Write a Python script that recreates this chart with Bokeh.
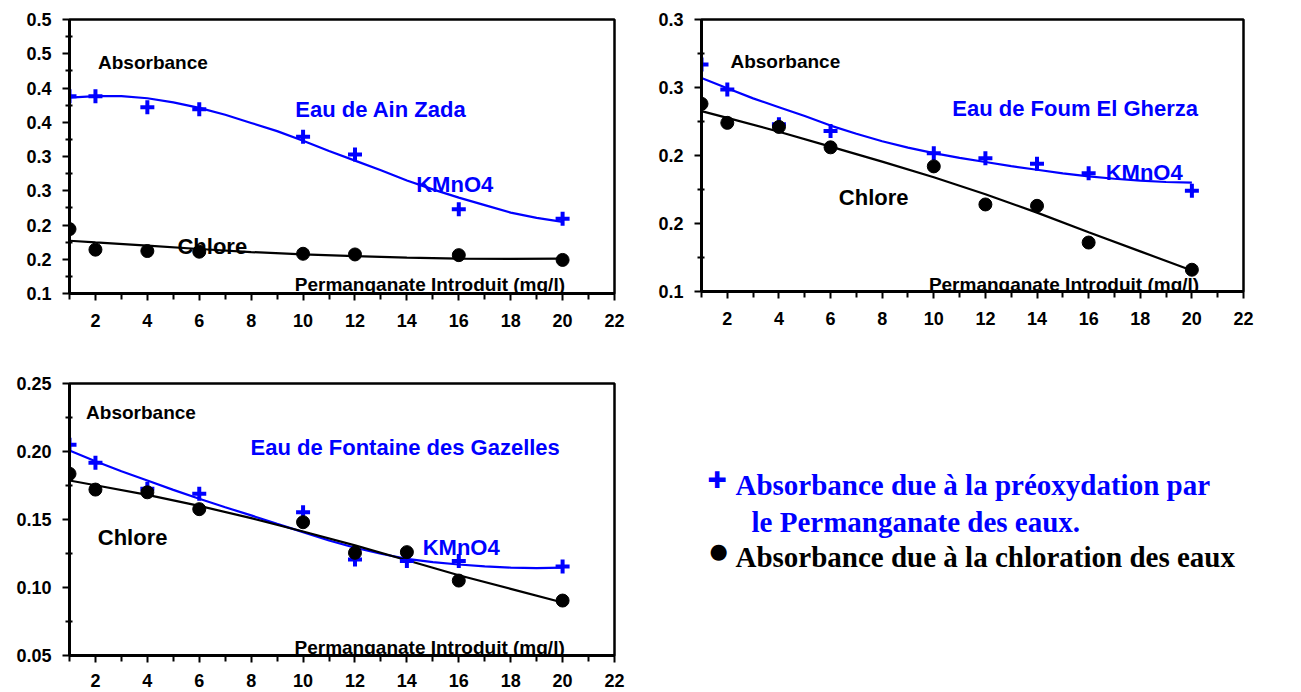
from bokeh.plotting import figure
from bokeh.models import Range1d, FixedTicker, Label
from bokeh.layouts import row, column
from bokeh.embed import file_html
from bokeh.resources import INLINE

BLUE = "#0000FF"
BLACK = "#000000"

# ---------------- data ----------------
x_major = [2, 4, 6, 8, 10, 12, 14, 16, 18, 20, 22]
x_minor = [1, 3, 5, 7, 9, 11, 13, 15, 17, 19, 21]

# Panel 1 : Eau de Ain Zada
az_x = [1, 2, 4, 6, 10, 12, 16, 20]
az_kmno4 = [0.388, 0.388, 0.372, 0.369, 0.329, 0.303, 0.223, 0.209]
az_chlore = [0.194, 0.164, 0.162, 0.161, 0.158, 0.157, 0.156, 0.149]
az_fit_k_x = [1, 2, 3, 4, 5, 6, 7, 8, 9, 10, 11, 12, 13, 14, 15, 16, 17, 18, 19, 20]
az_fit_k_y = [0.386, 0.388, 0.388, 0.385, 0.379, 0.371, 0.361, 0.349, 0.337, 0.323,
              0.308, 0.294, 0.280, 0.265, 0.252, 0.240, 0.229, 0.218, 0.2105, 0.2045]
az_fit_c_x = [1, 2, 4, 6, 8, 10, 12, 14, 16, 18, 20]
az_fit_c_y = [0.177, 0.1745, 0.170, 0.165, 0.1605, 0.157, 0.1545, 0.1525, 0.151, 0.1505, 0.151]
az_y_ticks = [0.10, 0.15, 0.20, 0.25, 0.30, 0.35, 0.40, 0.45, 0.50]
az_y_labels = ["0.1", "0.2", "0.2", "0.3", "0.3", "0.4", "0.4", "0.5", "0.5"]
az_y_minor = [0.125, 0.175, 0.225, 0.275, 0.325, 0.375, 0.425, 0.475]

# Panel 2 : Eau de Foum El Gherza
fg_x = [1, 2, 4, 6, 10, 12, 14, 16, 20]
fg_kmno4 = [0.267, 0.2485, 0.223, 0.218, 0.2017, 0.198, 0.194, 0.187, 0.174]
fg_chlore = [0.238, 0.224, 0.221, 0.206, 0.192, 0.164, 0.163, 0.136, 0.116]
fg_fit_k_x = [1, 2, 3, 4, 5, 6, 7, 8, 9, 10, 11, 12, 13, 14, 15, 16, 17, 18, 19, 20]
fg_fit_k_y = [0.257, 0.2495, 0.242, 0.2355, 0.229, 0.222, 0.216, 0.2105, 0.2058, 0.2018,
              0.1983, 0.1952, 0.1922, 0.1895, 0.1869, 0.1847, 0.1829, 0.1815, 0.1805, 0.180]
fg_fit_c_x = [1, 2, 4, 6, 8, 10, 12, 14, 16, 18, 20]
fg_fit_c_y = [0.2326, 0.2277, 0.2175, 0.2065, 0.1955, 0.184, 0.1715, 0.158, 0.1435, 0.1295, 0.1154]
fg_y_ticks = [0.10, 0.15, 0.20, 0.25, 0.30]
fg_y_labels = ["0.1", "0.2", "0.2", "0.3", "0.3"]
fg_y_minor = [0.125, 0.175, 0.225, 0.275]

# Panel 3 : Eau de Fontaine des Gazelles
gz_x = [1, 2, 4, 6, 10, 12, 14, 16, 20]
gz_kmno4 = [0.205, 0.1917, 0.1726, 0.169, 0.1554, 0.1206, 0.1194, 0.1194, 0.1154]
gz_chlore = [0.1836, 0.172, 0.170, 0.1576, 0.148, 0.1255, 0.126, 0.1051, 0.0904]
gz_fit_k_x = [1, 2, 3, 4, 5, 6, 7, 8, 9, 10, 11, 12, 13, 14, 15, 16, 17, 18, 19, 20]
gz_fit_k_y = [0.2007, 0.1929, 0.1855, 0.1787, 0.1718, 0.1652, 0.159, 0.153, 0.1468, 0.1407,
              0.1346, 0.1292, 0.1248, 0.1211, 0.1186, 0.1169, 0.1156, 0.1146, 0.1143, 0.1146]
gz_fit_c_x = [1, 2, 4, 6, 8, 10, 12, 14, 16, 18, 20]
gz_fit_c_y = [0.1787, 0.1752, 0.1681, 0.160, 0.151, 0.1412, 0.131, 0.120, 0.109, 0.099, 0.089]
gz_y_ticks = [0.05, 0.10, 0.15, 0.20, 0.25]
gz_y_labels = ["0.05", "0.10", "0.15", "0.20", "0.25"]
gz_y_minor = [0.075, 0.125, 0.175, 0.225]

legend_lines = ["Absorbance due à la préoxydation par",
                "le Permanganate des eaux.",
                "Absorbance due à la chloration des eaux"]

SANS = "Liberation Sans"
SERIF = "Liberation Serif"


def make_panel(w, h, left, right, top, bottom, y0, y1, yt, yl, ym, x_standoff):
    p = figure(width=w, height=h, x_range=Range1d(1, 22), y_range=Range1d(y0, y1),
               output_backend="svg", toolbar_location=None,
               min_border_left=left, min_border_right=right,
               min_border_top=top, min_border_bottom=bottom)
    p.grid.visible = False
    p.outline_line_color = BLACK
    p.outline_line_width = 2.5
    p.outline_line_alpha = 1.0
    p.background_fill_color = "white"
    p.border_fill_color = "white"
    for ax in (p.xaxis[0], p.yaxis[0]):
        ax.axis_line_width = 3
        ax.axis_line_color = BLACK
        ax.major_tick_line_width = 2
        ax.minor_tick_line_width = 2
        ax.major_tick_in = 0
        ax.major_tick_out = 7
        ax.major_label_text_font = SANS
        ax.major_label_text_font_style = "bold"
        ax.major_label_text_font_size = "18px"
        ax.major_label_text_color = BLACK
    p.xaxis.ticker = FixedTicker(ticks=x_major, minor_ticks=x_minor)
    p.xaxis.minor_tick_in = 0
    p.xaxis.minor_tick_out = 6
    p.xaxis.major_label_standoff = x_standoff
    p.yaxis.ticker = FixedTicker(ticks=yt, minor_ticks=ym)
    p.yaxis.major_label_overrides = {t: l for t, l in zip(yt, yl)}
    p.yaxis.minor_tick_in = 3
    p.yaxis.minor_tick_out = 4
    p.yaxis.major_label_standoff = 11
    return p


def add_series(p, x, yk, yc, fkx, fky, fcx, fcy):
    p.line(fkx, fky, line_color=BLUE, line_width=2.2)
    p.line(fcx, fcy, line_color=BLACK, line_width=2.2)
    p.scatter(x, yk, marker="cross", size=14, line_width=4, line_color=BLUE)
    p.scatter(x, yc, marker="circle", size=13, fill_color=BLACK, line_color=BLACK)


def add_text(p, x, y, text, color, size):
    p.add_layout(Label(x=x, y=y, text=text, text_font=SANS, text_font_style="bold",
                       text_font_size=size, text_color=color,
                       text_align="left", text_baseline="alphabetic"))


# Panel 1
p1 = make_panel(640, 345, 68, 24, 19, 52, 0.10, 0.50, az_y_ticks, az_y_labels, az_y_minor, 13)
add_series(p1, az_x, az_kmno4, az_chlore, az_fit_k_x, az_fit_k_y, az_fit_c_x, az_fit_c_y)
add_text(p1, 2.10, 0.4375, "Absorbance", BLACK, "19px")
add_text(p1, 9.70, 0.3687, "Eau de Ain Zada", BLUE, "22px")
add_text(p1, 14.36, 0.2596, "KMnO4", BLUE, "22px")
add_text(p1, 5.16, 0.1684, "Chlore", BLACK, "22px")
add_text(p1, 9.68, 0.1135, "Permanganate Introduit (mg/l)", BLACK, "19px")

# Panel 2
p2 = make_panel(661, 345, 61, 58, 19, 54, 0.10, 0.30, fg_y_ticks, fg_y_labels, fg_y_minor, 13)
add_series(p2, fg_x, fg_kmno4, fg_chlore, fg_fit_k_x, fg_fit_k_y, fg_fit_c_x, fg_fit_c_y)
add_text(p2, 2.12, 0.2693, "Absorbance", BLACK, "19px")
add_text(p2, 10.72, 0.2348, "Eau de Foum El Gherza", BLUE, "22px")
add_text(p2, 16.66, 0.1877, "KMnO4", BLUE, "22px")
add_text(p2, 6.32, 0.1689, "Chlore", BLACK, "22px")
add_text(p2, 9.81, 0.1049, "Permanganate Introduit (mg/l)", BLACK, "19px")

# Panel 3
p3 = make_panel(640, 347, 69, 26, 38, 37, 0.05, 0.25, gz_y_ticks, gz_y_labels, gz_y_minor, 11)
add_series(p3, gz_x, gz_kmno4, gz_chlore, gz_fit_k_x, gz_fit_k_y, gz_fit_c_x, gz_fit_c_y)
add_text(p3, 1.64, 0.2287, "Absorbance", BLACK, "19px")
add_text(p3, 7.975, 0.2027, "Eau de Fontaine des Gazelles", BLUE, "22px")
add_text(p3, 14.61, 0.1292, "KMnO4", BLUE, "22px")
add_text(p3, 2.09, 0.137, "Chlore", BLACK, "22px")
add_text(p3, 9.67, 0.0557, "Permanganate Introduit (mg/l)", BLACK, "19px")

# Legend panel (text only); its frame lines up with panel 2 (columns) and panel 3 (rows),
# so its ranges are set to page pixel positions of that frame.
p4 = figure(width=661, height=347, x_range=Range1d(701, 1243), y_range=Range1d(655, 383),
            output_backend="svg", toolbar_location=None,
            x_axis_location=None, y_axis_location=None,
            min_border_left=61, min_border_right=58, min_border_top=38, min_border_bottom=37)
p4.grid.visible = False
p4.outline_line_color = None


def add_legend_text(x, y, text, color, size="29px", baseline="alphabetic", font=SERIF):
    p4.add_layout(Label(x=x, y=y, text=text, text_font=font, text_font_style="bold",
                        text_font_size=size, text_color=color,
                        text_align="left", text_baseline=baseline))


add_legend_text(707, 479, "✚", BLUE, size="23px", baseline="middle", font="DejaVu Sans")
add_legend_text(735, 484, legend_lines[0], BLUE)
add_legend_text(751, 521, legend_lines[1], BLUE)
add_legend_text(709, 550, "●", BLACK, size="21px", baseline="middle", font="DejaVu Sans")
add_legend_text(735, 556, legend_lines[2], BLACK)

layout = row(column(p1, p3), column(p2, p4))

with open("out.html", "w") as f:
    f.write(file_html(layout, INLINE))
